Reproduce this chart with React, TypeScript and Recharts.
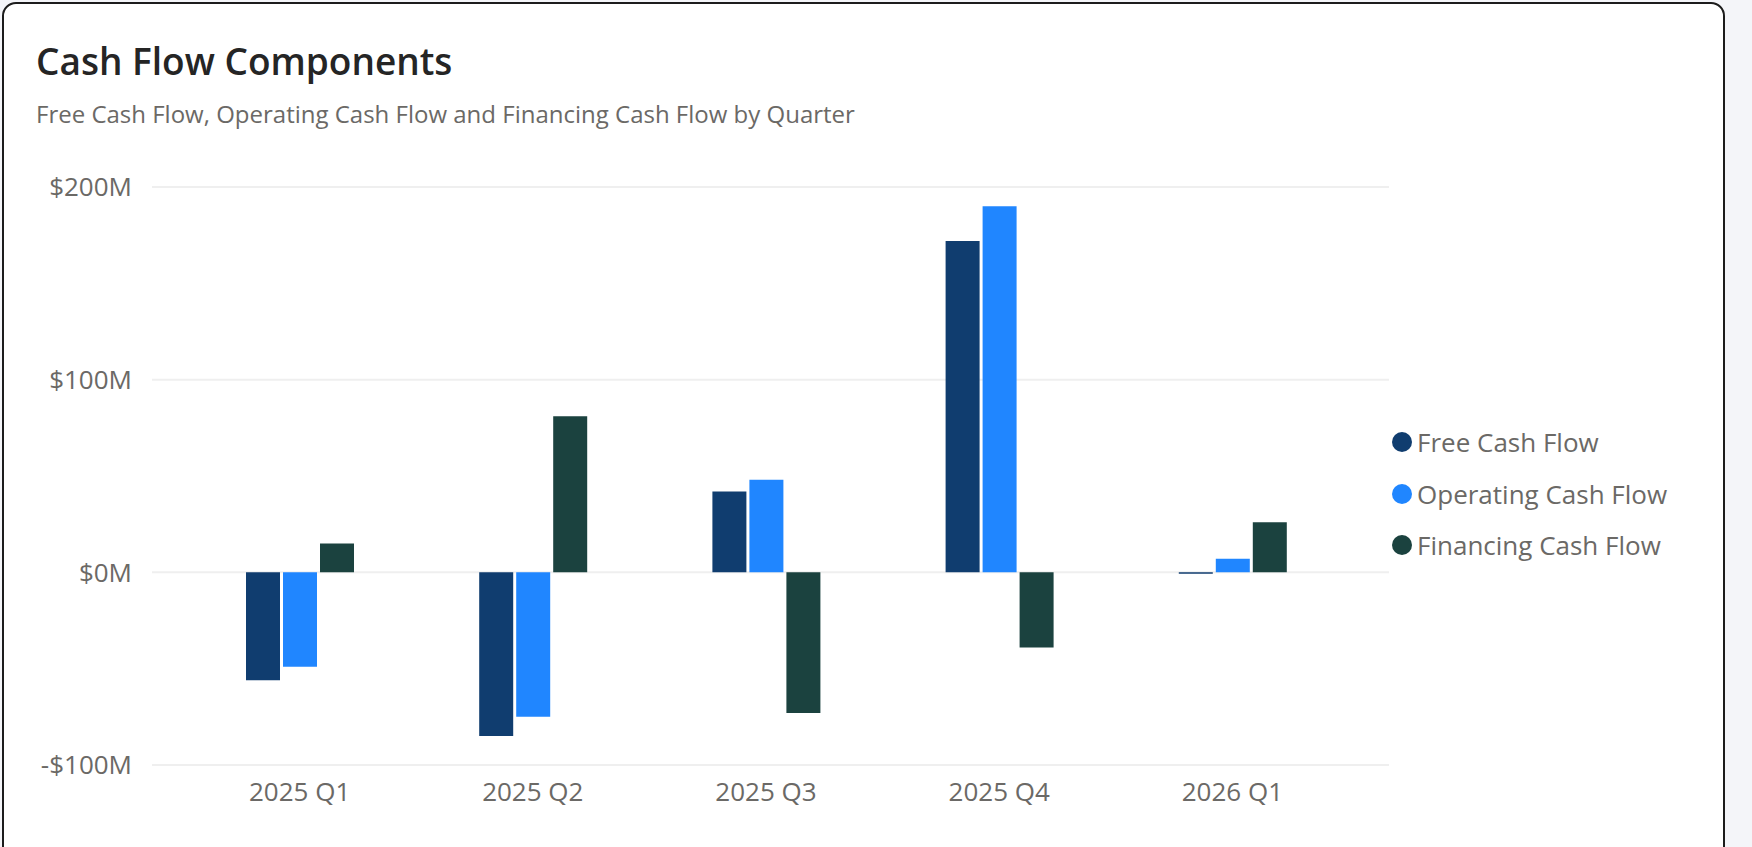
import React from "react";
import {
  BarChart,
  Bar,
  XAxis,
  YAxis,
  CartesianGrid,
  Legend,
} from "recharts";

// values in $M
const quarters = ["2025 Q1", "2025 Q2", "2025 Q3", "2025 Q4", "2026 Q1"];
const freeCashFlow = [-56, -85, 42, 172, -0.8];
const operatingCashFlow = [-49, -75, 48, 190, 7];
const financingCashFlow = [15, 81, -73, -39, 26];
const yTicks = [-100, 0, 100, 200];

const series = [
  { key: "fcf", name: "Free Cash Flow", color: "#103d6f" },
  { key: "ocf", name: "Operating Cash Flow", color: "#2086ff" },
  { key: "fin", name: "Financing Cash Flow", color: "#1b423f" },
];

const data = quarters.map((quarter, i) => ({
  quarter,
  fcf: freeCashFlow[i],
  ocf: operatingCashFlow[i],
  fin: financingCashFlow[i],
}));

const FONT = '"Segoe UI", "Open Sans", sans-serif';
const TEXT_GRAY = "#6b6966";

const formatMoney = (v: number) => (v < 0 ? `-$${Math.abs(v)}M` : `$${v}M`);

const LegendContent = () => (
  <div style={{ fontFamily: FONT }}>
    {series.map((s) => (
      <div
        key={s.key}
        style={{
          display: "flex",
          alignItems: "center",
          height: 51.7,
          paddingLeft: 3,
        }}
      >
        <span
          style={{
            width: 20,
            height: 20,
            borderRadius: "50%",
            background: s.color,
            display: "inline-block",
            marginRight: 5,
          }}
        />
        <span style={{ fontSize: 26, color: TEXT_GRAY }}>{s.name}</span>
      </div>
    ))}
  </div>
);

export default function App() {
  return (
    <div
      style={{
        position: "relative",
        width: 1752,
        height: 847,
        overflow: "hidden",
        background: "#f4f5f9",
        fontFamily: FONT,
      }}
    >
      <style>{"body{margin:0;}"}</style>
      <div
        style={{
          position: "absolute",
          left: 2,
          top: 2,
          width: 1723,
          height: 900,
          boxSizing: "border-box",
          border: "2px solid #1c1c1c",
          borderRadius: 14,
          background: "#fff",
        }}
      />
      <div
        style={{
          position: "absolute",
          left: 36,
          top: 42,
          fontSize: 37,
          lineHeight: 1,
          fontWeight: 600,
          color: "#252525",
        }}
      >
        Cash Flow Components
      </div>
      <div
        style={{
          position: "absolute",
          left: 36,
          top: 102,
          fontSize: 24,
          lineHeight: 1,
          color: TEXT_GRAY,
        }}
      >
        Free Cash Flow, Operating Cash Flow and Financing Cash Flow by Quarter
      </div>
      <div style={{ position: "absolute", left: 0, top: 0 }}>
        <BarChart
          width={1752}
          height={847}
          data={data}
          margin={{ top: 187, right: 33, bottom: 0, left: 0 }}
          barSize={34}
          barGap={3}
        >
          <CartesianGrid
            vertical={false}
            stroke="#efefef"
            strokeWidth={2}
          />
          <XAxis
            dataKey="quarter"
            axisLine={false}
            tickLine={false}
            tickSize={0}
            tickMargin={18}
            height={82}
            padding={{ left: 31, right: 40 }}
            tick={{ fontSize: 26, fill: TEXT_GRAY, fontFamily: FONT }}
          />
          <YAxis
            width={152}
            domain={[-100, 200]}
            ticks={yTicks}
            axisLine={false}
            tickLine={false}
            tickSize={0}
            tickMargin={20}
            tickFormatter={formatMoney}
            tick={{ fontSize: 26, fill: TEXT_GRAY, fontFamily: FONT }}
          />
          <Legend
            layout="vertical"
            align="right"
            verticalAlign="middle"
            width={330}
            wrapperStyle={{ top: 416, width: 330 }}
            content={<LegendContent />}
          />
          {series.map((s) => (
            <Bar
              key={s.key}
              dataKey={s.key}
              name={s.name}
              fill={s.color}
              isAnimationActive={false}
            />
          ))}
        </BarChart>
      </div>
    </div>
  );
}
